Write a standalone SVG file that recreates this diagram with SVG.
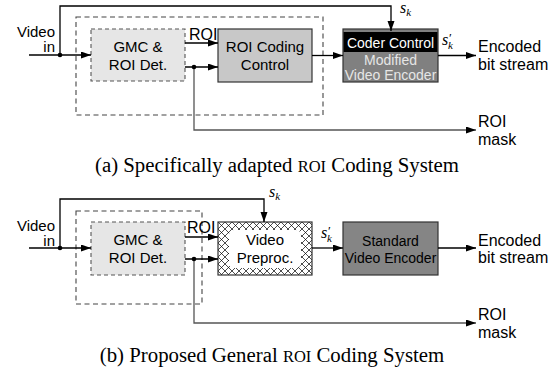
<svg xmlns="http://www.w3.org/2000/svg" width="559" height="377" viewBox="0 0 559 377">
  <style>
    .lbl { font-family: "Liberation Sans", Arial, sans-serif; font-size: 16px; fill: #000; }
    .vin { font-family: "Liberation Sans", Arial, sans-serif; font-size: 15px; fill: #000; text-anchor: end; }
    .box { font-family: "Liberation Sans", Arial, sans-serif; font-size: 15px; fill: #000; text-anchor: middle; }
    .enc { font-family: "Liberation Sans", Arial, sans-serif; font-size: 14px; text-anchor: middle; }
    .cap { font-family: "Liberation Serif", "Times New Roman", serif; font-size: 20.8px; fill: #000; text-anchor: middle; }
    .sym { font-family: "Liberation Serif", "Times New Roman", serif; font-style: italic; font-size: 16px; fill: #000; }
    .sub { font-size: 11px; }
    .prime { font-size: 13px; font-style: normal; }
    .wire { fill: none; stroke: #000; stroke-width: 1.3; }
    .mask { fill: none; stroke: #555; stroke-width: 1.3; }
    .outer { fill: none; stroke: #444; stroke-width: 1.1; stroke-dasharray: 5 3.5; }
    .det { fill: #e6e6e6; stroke: #555; stroke-width: 1.1; stroke-dasharray: 4 3; }
    .solid { stroke: #333; stroke-width: 1.2; }
  </style>
  <defs>
    <marker id="arr" markerUnits="userSpaceOnUse" markerWidth="11" markerHeight="8" refX="10" refY="3.5" orient="auto">
      <path d="M0,0 L10,3.5 L0,7 z" fill="#000"/>
    </marker>
    <pattern id="xhatch" patternUnits="userSpaceOnUse" width="7" height="7" x="218" y="222">
      <rect width="7" height="7" fill="#fff"/>
      <path d="M0,0 L7,7 M7,0 L0,7" stroke="#000" stroke-width="0.7"/>
    </pattern>
  </defs>

  <!-- (a) specifically adapted system -->
  <g id="a-video-in">
    <text class="vin" x="55" y="37">Video</text>
    <text class="vin" x="55" y="52">in</text>
  </g>
  <g id="a-roi-unit">
    <rect class="outer" x="76" y="17" width="247" height="98"/>
  </g>
  <g id="a-gmc">
    <rect class="det" x="91" y="29" width="94" height="52"/>
    <text class="box" x="138" y="52">GMC &amp;</text>
    <text class="box" x="138" y="70">ROI Det.</text>
  </g>
  <g id="a-roi-coding">
    <rect class="solid" x="218" y="29" width="94" height="53" fill="#c8c8c8"/>
    <text class="box" x="265" y="52">ROI Coding</text>
    <text class="box" x="265" y="70">Control</text>
  </g>
  <g id="a-encoder">
    <rect x="343" y="29" width="95" height="53" fill="#808080" stroke="#333" stroke-width="1.2"/>
    <rect x="343.6" y="32" width="93.8" height="20" fill="#000"/>
    <text class="enc" x="390.5" y="48" fill="#fff">Coder Control</text>
    <text class="enc" x="390.5" y="65" fill="#e6e6e6">Modified</text>
    <text class="enc" x="390.5" y="80" fill="#e6e6e6">Video Encoder</text>
  </g>
  <g id="a-outputs">
    <text class="lbl" x="478" y="52">Encoded</text>
    <text class="lbl" x="478" y="70">bit stream</text>
    <text class="lbl" x="478" y="127">ROI</text>
    <text class="lbl" x="478" y="145">mask</text>
    <text class="lbl" x="189" y="40">ROI</text>
    <text class="sym" x="400" y="13">s<tspan class="sub" dy="3">k</tspan></text>
    <text class="sym" x="442" y="45">s<tspan class="prime" x="449" y="42">′</tspan><tspan class="sub" x="448" y="49">k</tspan></text>
  </g>
  <g id="a-connectors">
    <path class="wire" d="M29,55 H91" marker-end="url(#arr)"/>
    <path class="wire" d="M60,55 V6 H391 V31" marker-end="url(#arr)"/>
    <path class="wire" d="M185,43 H218" marker-end="url(#arr)"/>
    <path class="wire" d="M185,67 H218" marker-end="url(#arr)"/>
    <path class="wire" d="M312,55.5 H343" marker-end="url(#arr)"/>
    <path class="wire" d="M438,55.5 H476" marker-end="url(#arr)"/>
    <path class="mask" d="M194,67 V130 H476" marker-end="url(#arr)"/>
    <circle cx="60" cy="55" r="2.3" fill="#000"/>
    <circle cx="194" cy="67" r="2.3" fill="#000"/>
  </g>
  <text class="cap" x="277" y="172">(a) Specifically adapted <tspan font-size="16.5px">ROI</tspan> Coding System</text>

  <!-- (b) proposed general system -->
  <g id="b-video-in">
    <text class="vin" x="55" y="231">Video</text>
    <text class="vin" x="55" y="246">in</text>
  </g>
  <g id="b-roi-unit">
    <rect class="outer" x="76" y="211" width="126" height="93"/>
  </g>
  <g id="b-gmc">
    <rect class="det" x="91" y="222" width="94" height="53"/>
    <text class="box" x="138" y="245">GMC &amp;</text>
    <text class="box" x="138" y="263">ROI Det.</text>
  </g>
  <g id="b-preproc">
    <rect class="solid" x="218" y="222" width="94" height="53" fill="url(#xhatch)"/>
    <rect x="229" y="230" width="72" height="38" rx="5" fill="#fff"/>
    <text class="box" x="265" y="245">Video</text>
    <text class="box" x="265" y="263">Preproc.</text>
  </g>
  <g id="b-encoder">
    <rect class="solid" x="343" y="222" width="95" height="53" fill="#858585"/>
    <text class="enc" x="390.5" y="246" fill="#000">Standard</text>
    <text class="enc" x="390.5" y="263" fill="#000">Video Encoder</text>
  </g>
  <g id="b-outputs">
    <text class="lbl" x="478" y="246">Encoded</text>
    <text class="lbl" x="478" y="263">bit stream</text>
    <text class="lbl" x="478" y="320">ROI</text>
    <text class="lbl" x="478" y="338">mask</text>
    <text class="lbl" x="187" y="233">ROI</text>
    <text class="sym" x="269" y="197">s<tspan class="sub" dy="3">k</tspan></text>
    <text class="sym" x="321" y="238">s<tspan class="prime" x="328" y="235">′</tspan><tspan class="sub" x="327" y="242">k</tspan></text>
  </g>
  <g id="b-connectors">
    <path class="wire" d="M29,248 H91" marker-end="url(#arr)"/>
    <path class="wire" d="M60,248 V199 H264 V222" marker-end="url(#arr)"/>
    <path class="wire" d="M185,237 H218" marker-end="url(#arr)"/>
    <path class="wire" d="M185,259 H218" marker-end="url(#arr)"/>
    <path class="wire" d="M312,248 H343" marker-end="url(#arr)"/>
    <path class="wire" d="M438,248 H476" marker-end="url(#arr)"/>
    <path class="mask" d="M194,259 V323 H476" marker-end="url(#arr)"/>
    <circle cx="60" cy="248" r="2.3" fill="#000"/>
    <circle cx="194" cy="259" r="2.3" fill="#000"/>
  </g>
  <text class="cap" x="272" y="362">(b) Proposed General <tspan font-size="16.5px">ROI</tspan> Coding System</text>
</svg>
